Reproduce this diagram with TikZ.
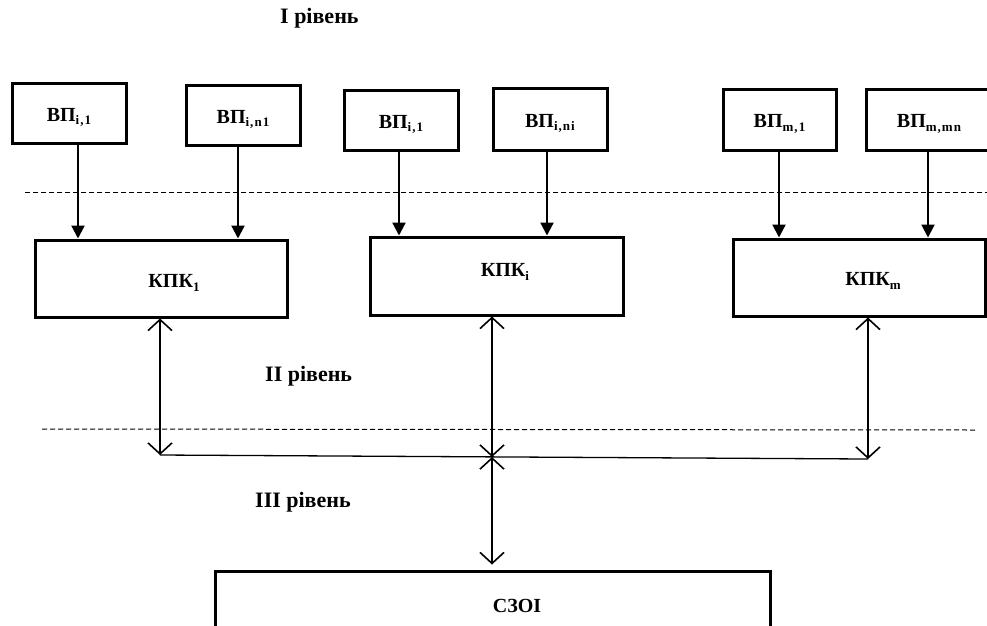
\documentclass[tikz,border=0pt]{standalone}
\usepackage{fontspec}
\setmainfont{Liberation Serif}
\usetikzlibrary{arrows.meta}
\newcommand\sbx[1]{\raisebox{-0.4ex}{\fontsize{13}{13}\selectfont\addfontfeature{LetterSpace=8}#1}}
\begin{document}
\begin{tikzpicture}[x=1pt,y=-1pt,
  box/.style={draw,line width=3pt,inner sep=0pt,font=\bfseries\fontsize{20}{20}\selectfont,text height=17pt,text depth=1pt},
  txt/.style={inner sep=0pt,font=\bfseries\fontsize{20}{20}\selectfont},
  lvl/.style={inner sep=0pt,anchor=west,font=\bfseries\fontsize{22}{22}\selectfont},
  dn/.style={line width=2.2pt,-{Triangle[length=13pt,width=13pt]}},
  bd/.style={line width=1.6pt,{Straight Barb[length=11pt,width=24pt]}-{Straight Barb[length=11pt,width=24pt]}},
  hline/.style={line width=1.3pt},
  dsh/.style={line width=1pt,dash pattern=on 5pt off 3pt}]
\useasboundingbox (0,0) rectangle (987,625);
\clip (0,0) rectangle (987,625);
\fill[white] (0,0) rectangle (987,625);

% level labels
\node[lvl] (l1) at (280,18) {I рівень};
\node[lvl] (l2) at (265,376) {II рівень};
\node[lvl] (l3) at (255,502) {III рівень};

% dashed separators
\draw[dsh] (25,192) -- (987,192);
\draw[dsh] (42,429) -- (977,430);

% level I boxes
\node[box,minimum width=114pt,minimum height=60pt] (v1) at (69,113) {ВП\sbx{i,1}};
\node[box,minimum width=114pt,minimum height=60pt] (v2) at (243,115) {ВП\sbx{i,n1}};
\node[box,minimum width=114pt,minimum height=60pt] (v3) at (401,120) {ВП\sbx{i,1}};
\node[box,minimum width=114pt,minimum height=62pt] (v4) at (550,119) {ВП\sbx{i,ni}};
\node[box,minimum width=113pt,minimum height=61pt] (v5) at (779.5,119.5) {ВП\sbx{m,1}};
\node[box,minimum width=126pt,minimum height=61pt] (v6) at (929,119.5) {ВП\sbx{m,mn}};

% level II boxes
\node[box,minimum width=252pt,minimum height=77pt] (k1) at (161,278.5) {};
\node[box,minimum width=253pt,minimum height=78pt] (ki) at (496.5,276) {};
\node[box,minimum width=252pt,minimum height=77pt] (km) at (859,277.5) {};
\node[txt] (tk1) at (174,283) {КПК\sbx{1}};
\node[txt] (tki) at (505,272) {КПК\sbx{i}};
\node[txt] (tkm) at (873,281) {КПК\sbx{m}};

% level III box
\node[box,minimum width=555pt,minimum height=100pt] (s) at (492.5,621) {};
\node[txt] (ts) at (517,606) {СЗОІ};

% arrow columns
\coordinate (a1) at (78,0);
\coordinate (a2) at (238,0);
\coordinate (a3) at (399,0);
\coordinate (a4) at (547,0);
\coordinate (a5) at (779,0);
\coordinate (a6) at (928,0);
\draw[dn] (v1.south -| a1) -- (k1.north -| a1);
\draw[dn] (v2.south -| a2) -- (k1.north -| a2);
\draw[dn] (v3.south -| a3) -- (ki.north -| a3);
\draw[dn] (v4.south -| a4) -- (ki.north -| a4);
\draw[dn] (v5.south -| a5) -- (km.north -| a5);
\draw[dn] (v6.south -| a6) -- (km.north -| a6);

% bus
\coordinate (h1) at (160,455);
\coordinate (hi) at (492,457);
\coordinate (hm) at (868,459);
\draw[hline] (h1) -- (hm);
\draw[bd] (k1.south -| h1) -- (h1);
\draw[bd] (ki.south -| hi) -- (hi);
\draw[bd] (km.south -| hm) -- (hm);
\draw[bd,shorten >=5pt] (hi) -- (s.north -| hi);
\end{tikzpicture}
\end{document}
